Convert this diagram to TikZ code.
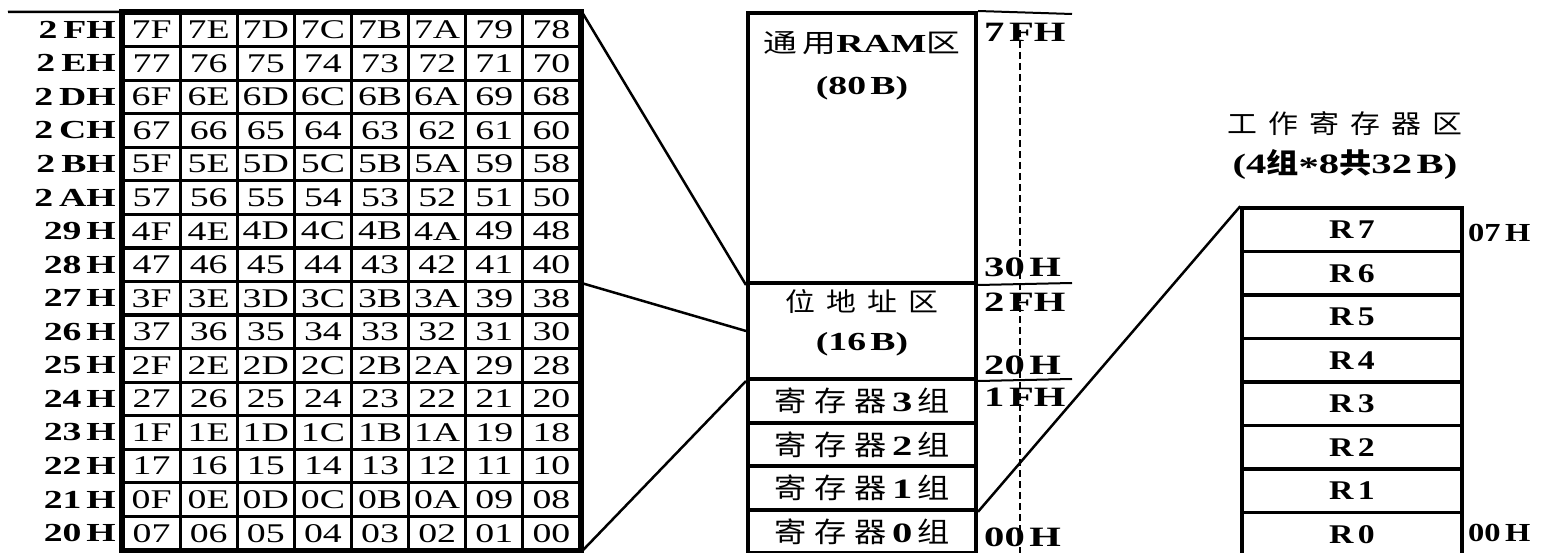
\documentclass[tikz,border=0pt]{standalone}
\usepackage{fontspec}
\setmainfont{Liberation Serif}[FakeStretch=1.25]
\newfontfamily\labfont{Liberation Serif}[FakeStretch=1.45]
\newfontfamily\cellfont{Liberation Serif}[FakeStretch=1.4]
\newfontfamily\cjk{Noto Sans CJK SC}[FakeStretch=1.15]
\newfontfamily\cjkw{Noto Sans CJK SC}[FakeStretch=1.3]
\begin{document}
\begin{tikzpicture}[x=1pt,y=-1pt,
  cell/.style={draw,line width=3.2pt,minimum width=57.125pt,minimum height=33.56pt,inner sep=0pt,font=\cellfont\fontsize{27}{29}\selectfont},
  rowlab/.style={anchor=east,inner sep=0pt,font=\labfont\bfseries\fontsize{26}{28}\selectfont},
  region/.style={draw,line width=4pt,minimum width=228pt,inner sep=0pt},
  grplab/.style={font=\labfont\bfseries\fontsize{28}{30}\selectfont},
  regbox/.style={draw,line width=3.5pt,minimum width=220pt,minimum height=43.5pt,inner sep=0pt,font=\bfseries\fontsize{27}{29}\selectfont},
  addr/.style={anchor=west,inner sep=0pt,font=\labfont\bfseries\fontsize{28}{30}\selectfont},
  raddr/.style={anchor=west,inner sep=0pt,font=\bfseries\fontsize{26}{28}\selectfont},
  conn/.style={line width=2.5pt},
  ext/.style={line width=2pt},
  dashline/.style={line width=2pt,dash pattern=on 7pt off 4pt},
]
\useasboundingbox (0,0) rectangle (1551,553);
\fill[white] (0,0) rectangle (1551,553);

% ---- bit-address grid ----
\foreach \rowvals [count=\i] in {
  {7F,7E,7D,7C,7B,7A,79,78},{77,76,75,74,73,72,71,70},
  {6F,6E,6D,6C,6B,6A,69,68},{67,66,65,64,63,62,61,60},
  {5F,5E,5D,5C,5B,5A,59,58},{57,56,55,54,53,52,51,50},
  {4F,4E,4D,4C,4B,4A,49,48},{47,46,45,44,43,42,41,40},
  {3F,3E,3D,3C,3B,3A,39,38},{37,36,35,34,33,32,31,30},
  {2F,2E,2D,2C,2B,2A,29,28},{27,26,25,24,23,22,21,20},
  {1F,1E,1D,1C,1B,1A,19,18},{17,16,15,14,13,12,11,10},
  {0F,0E,0D,0C,0B,0A,09,08},{07,06,05,04,03,02,01,00}}{
  \foreach \v [count=\j] in \rowvals {
    \node[cell] (c-\i-\j) at ({123+57.125*(\j-0.5)},{13+33.56*(\i-0.5)}) {\v};
  }
}
\foreach \l [count=\i] in {2\hspace{6pt}FH,2\hspace{6pt}EH,2\hspace{6pt}DH,2\hspace{6pt}CH,2\hspace{6pt}BH,2\hspace{6pt}AH,29\hspace{5pt}H,28\hspace{5pt}H,27\hspace{5pt}H,26\hspace{5pt}H,25\hspace{5pt}H,24\hspace{5pt}H,23\hspace{5pt}H,22\hspace{5pt}H,21\hspace{5pt}H,20\hspace{5pt}H}{
  \node[rowlab] (lab-\i) at (116,{13+33.56*(\i-0.5)}) {\l};
}
\draw[line width=4.5pt] (c-1-1.north west) rectangle (c-16-8.south east);

% ---- internal RAM map ----
\node[region,minimum height=270pt] (ram) at (862,148) {};
\node[region,minimum height=96pt] (bit) at (862,331) {};
\node[region,minimum height=43.6pt,grplab] (g3) at (862,400.8) {{\cjk\mdseries 寄\hspace{8pt}存\hspace{8pt}器}\hspace{5pt}3\hspace{5pt}{\cjk\mdseries 组}};
\node[region,minimum height=43.6pt,grplab] (g2) at (862,444.4) {{\cjk\mdseries 寄\hspace{8pt}存\hspace{8pt}器}\hspace{5pt}2\hspace{5pt}{\cjk\mdseries 组}};
\node[region,minimum height=43.6pt,grplab] (g1) at (862,488.0) {{\cjk\mdseries 寄\hspace{8pt}存\hspace{8pt}器}\hspace{5pt}1\hspace{5pt}{\cjk\mdseries 组}};
\node[region,minimum height=43.6pt,grplab] (g0) at (862,531.6) {{\cjk\mdseries 寄\hspace{8pt}存\hspace{8pt}器}\hspace{5pt}0\hspace{5pt}{\cjk\mdseries 组}};
\node[align=center,inner sep=0pt,font=\labfont\bfseries\fontsize{26}{42}\selectfont] (ramtxt) at (862,66)
  {{\cjkw\mdseries 通\hspace{5pt}用}RAM{\cjkw\mdseries 区}\\(80\,B)};
\node[align=center,inner sep=0pt,font=\labfont\bfseries\fontsize{26}{39}\selectfont] (bittxt) at (862,323)
  {{\cjk\mdseries 位\hspace{11pt}地\hspace{11pt}址\hspace{11pt}区}\\(16\,B)};

\coordinate (e1) at (1072,14);
\coordinate (e2) at (1072,283);
\coordinate (e3) at (1072,379);
\draw[ext] (ram.north east) -- (e1);
\draw[ext] (ram.south east) -- (e2);
\draw[ext] (bit.south east) -- (e3);
\coordinate (d1) at (1020,30);
\coordinate (d2) at (1020,553);
\draw[dashline] (d1) -- (d2);

\node[addr] (a7f) at (984,32) {7\,FH};
\node[addr] (a30) at (984,267) {30\,H};
\node[addr] (a2f) at (984,302) {2\,FH};
\node[addr] (a20) at (984,365) {20\,H};
\node[addr] (a1f) at (984,397) {1\,FH};
\node[addr] (a00) at (984,537) {00\,H};

% ---- working registers ----
\foreach \r [count=\k] in {7,6,5,4,3,2,1,0}{
  \node[regbox] (R\r) at (1352,{208+43.5*(\k-0.5)}) {R\,\r};
}
\node[raddr] (r07) at (1468,233) {07\,H};
\node[raddr] (r00) at (1468,533) {00\,H};
\node[align=center,inner sep=0pt,font=\labfont\bfseries\fontsize{28}{40}\selectfont] (title) at (1345,145)
  {{\cjk\mdseries\fontsize{26}{40}\selectfont 工\hspace{11pt}作\hspace{11pt}寄\hspace{11pt}存\hspace{11pt}器\hspace{11pt}区}\\(4{\cjk 组}\raisebox{-0.3ex}{*}8{\cjk 共}32\,B)};

% ---- connectors ----
\coordinate (tl) at (8,12);
\draw[conn] (tl) -- (c-1-8.north east) -- (ram.south west);
\draw[conn] (c-8-8.south east) -- (bit.west);
\draw[conn] (c-16-8.south east) -- (bit.south west);
\draw[conn] (g1.south east) -- (R7.north west);
\end{tikzpicture}
\end{document}
